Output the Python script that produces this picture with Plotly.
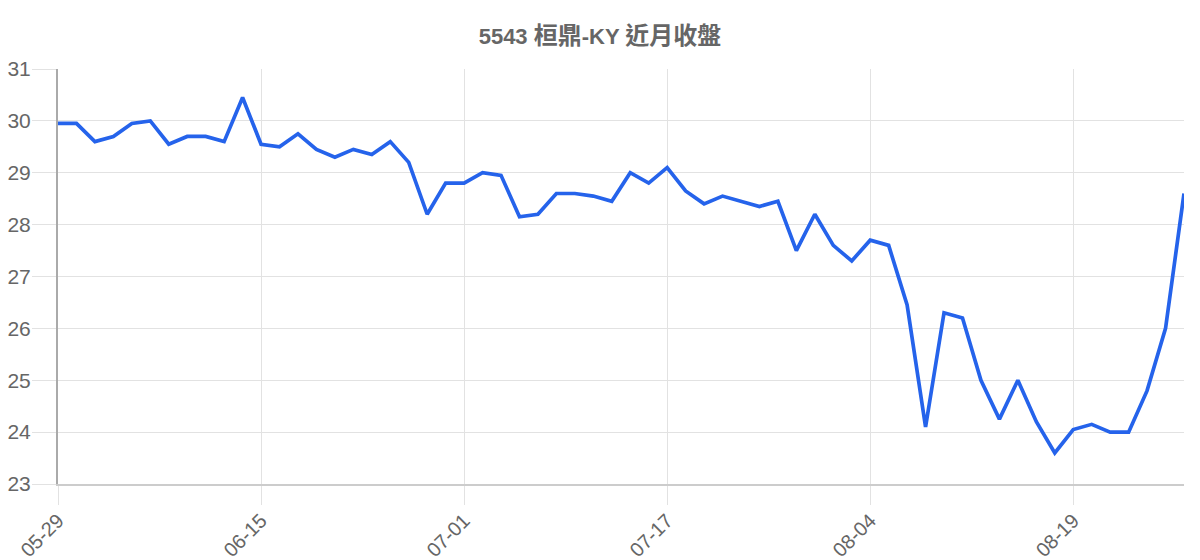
import re
import plotly.graph_objects as go

# trading dates (MM-DD) and closing prices
dates = [
    "05-29", "05-30", "06-01", "06-02", "06-03", "06-05", "06-06", "06-08", "06-09", "06-12", "06-13", "06-15",
    "06-16", "06-19", "06-20", "06-21", "06-23", "06-24", "06-26", "06-27", "06-28", "06-30", "07-01",
    "07-03", "07-04", "07-05", "07-07", "07-08", "07-10", "07-11", "07-12", "07-14", "07-15", "07-17",
    "07-18", "07-20", "07-21", "07-22", "07-24", "07-25", "07-27", "07-28", "07-31", "08-01", "08-04",
    "08-05", "08-06", "08-07", "08-08", "08-11", "08-12", "08-13", "08-14", "08-15", "08-18", "08-19",
    "08-20", "08-21", "08-22", "08-25", "08-26", "08-27",
]
close = [
    29.95, 29.95, 29.6, 29.7, 29.95, 30.0, 29.55, 29.7, 29.7, 29.6, 30.45, 29.55,
    29.5, 29.75, 29.45, 29.3, 29.45, 29.35, 29.6, 29.2, 28.2, 28.8, 28.8,
    29.0, 28.95, 28.15, 28.2, 28.6, 28.6, 28.55, 28.45, 29.0, 28.8, 29.1,
    28.65, 28.4, 28.55, 28.45, 28.35, 28.45, 27.5, 28.2, 27.6, 27.3, 27.7,
    27.6, 26.45, 24.1, 26.3, 26.2, 25.0, 24.25, 25.0, 24.2, 23.6, 24.05,
    24.15, 24.0, 24.0, 24.8, 26.0, 28.6,
]
tick_labels = ["05-29", "06-15", "07-01", "07-17", "08-04", "08-19"]
title = "5543 桓鼎-KY 近月收盤"

font_family = "Liberation Sans, Arial, Noto Sans CJK TC, sans-serif"
grid_color = "#e2e2e2"
text_color = "#666666"

# CJK glyphs in the original title render a little larger than the latin ones
title_html = re.sub(r"([\u4e00-\u9fff]+)", r'<span style="font-size:24px">\1</span>', title)

fig = go.Figure()

fig.add_trace(
    go.Scatter(
        x=dates,
        y=close,
        mode="lines",
        line=dict(color="#2563eb", width=3.7),
        hovertemplate="%{x}: %{y}<extra></extra>",
    )
)

fig.update_layout(
    width=1200,
    height=560,
    margin=dict(l=58, r=16, t=69, b=76, autoexpand=False),
    paper_bgcolor="white",
    plot_bgcolor="white",
    showlegend=False,
    font=dict(family=font_family, color=text_color),
    title=dict(
        text=f"<b>{title_html}</b>",
        x=0.5,
        xanchor="center",
        y=1 - 36 / 560,
        yref="container",
        yanchor="middle",
        font=dict(size=22, color=text_color, family=font_family),
    ),
)

fig.update_xaxes(
    type="category",
    automargin=False,
    range=[0, len(dates) - 1],
    tickmode="array",
    tickvals=tick_labels,
    ticktext=tick_labels,
    tickangle=-45,
    tickfont=dict(size=20, color=text_color),
    ticklabelstandoff=-4,
    showgrid=True,
    gridcolor=grid_color,
    gridwidth=1,
    ticks="outside",
    ticklen=19,
    tickcolor=grid_color,
    showline=True,
    linecolor="#cccccc",
    linewidth=2,
)

fig.update_yaxes(
    automargin=False,
    range=[23, 31],
    dtick=1,
    tickfont=dict(size=21, color=text_color),
    ticklabelstandoff=-3,
    showgrid=True,
    gridcolor=grid_color,
    gridwidth=1,
    ticks="outside",
    ticklen=24,
    tickcolor=grid_color,
    showline=True,
    linecolor="#aaaaaa",
    linewidth=2,
    zeroline=False,
)

# drop the default 8px page margin so the figure sits at the window's corner
fig.write_html(
    "out.html",
    config={"displayModeBar": False},
    post_script="document.body.style.margin = '0';",
)
